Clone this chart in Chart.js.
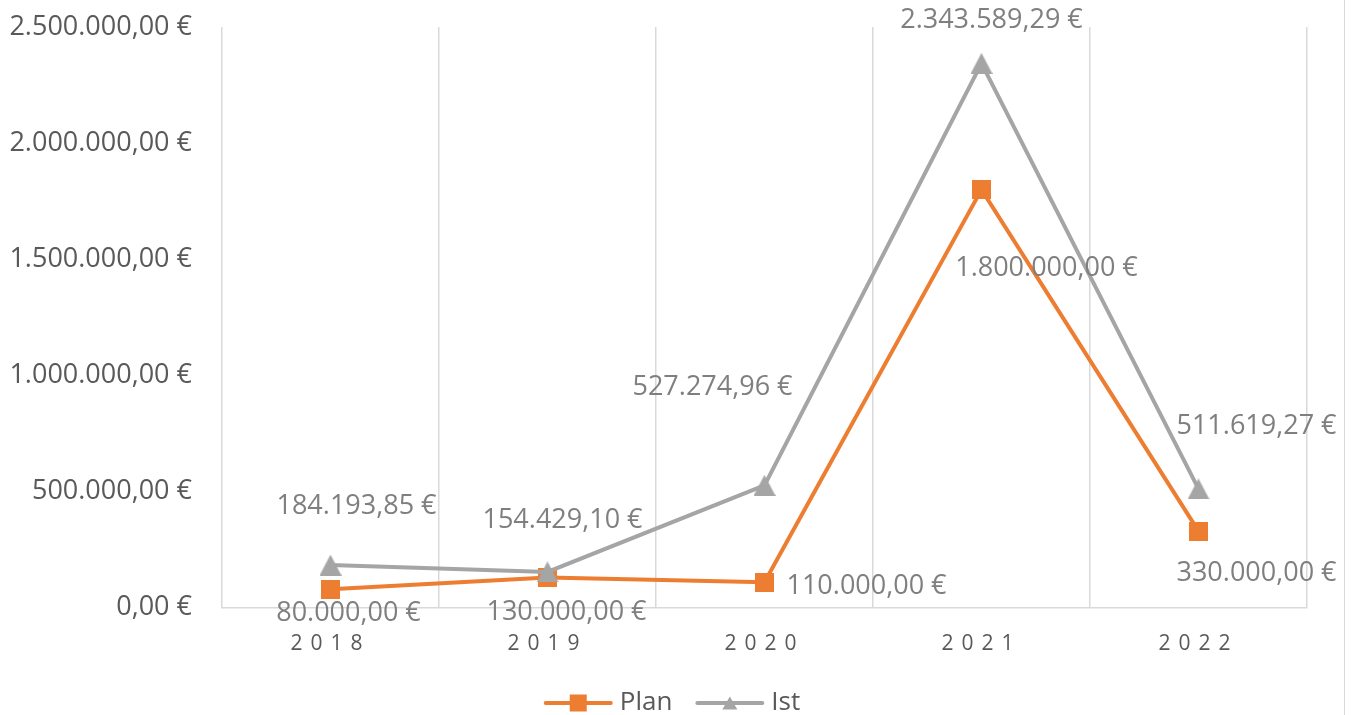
<!DOCTYPE html>
<html>
<head>
<meta charset="utf-8">
<script src="https://cdn.jsdelivr.net/npm/chart.js@4.4.1/dist/chart.umd.min.js"></script>
<style>
  html, body { margin: 0; padding: 0; background: #fff; }
  #wrap { position: relative; width: 1344px; height: 715px; border-right: 1px solid #d9d9d9; }
</style>
</head>
<body>
<div id="wrap"><canvas id="chart"></canvas></div>
<script>
const years = ["2018", "2019", "2020", "2021", "2022"];
const planValues = [80000, 130000, 110000, 1800000, 330000];
const istValues = [184193.85, 154429.10, 527274.96, 2343589.29, 511619.27];
const yMax = 2500000;
const yStep = 500000;

// where each value label sits, relative to its point (px)
const planLabelOffsets = [[18, 24], [19, 35], [102, 4], [65, 79], [58, 42]];
const istLabelOffsets = [[26, -59], [15, -52], [-52, -98], [10, -43], [58, -63]];

const orange = "#ed7d31";
const grey = "#a5a5a5";
const fontFamily = '"Open Sans", sans-serif';

function euro(v) {
    const parts = v.toFixed(2).split(".");
    return parts[0].replace(/\B(?=(\d{3})+(?!\d))/g, ".") + "," + parts[1] + " €";
}

function drawMarker(ctx, style, x, y, w, h, color) {
    ctx.fillStyle = color;
    ctx.beginPath();
    if (style === "rect") {
        ctx.rect(x - w / 2, y - h / 2, w, h);
    } else {
        ctx.moveTo(x, y - h / 2);
        ctx.lineTo(x + w / 2, y + h / 2);
        ctx.lineTo(x - w / 2, y + h / 2);
        ctx.closePath();
    }
    ctx.fill();
}

// marker images, centred on the point by chart.js
function markerImage(style, w, h, color) {
    const c = document.createElement("canvas");
    c.width = w;
    c.height = h;
    drawMarker(c.getContext("2d"), style, w / 2, h / 2, w, h, color);
    return c;
}

const squareMarker = markerImage("rect", 19, 19, orange);
const triangleMarker = markerImage("triangle", 22, 21, grey);

const valueLabels = {
    id: "valueLabels",
    afterDatasetsDraw(chart) {
        const ctx = chart.ctx;
        ctx.save();
        ctx.font = "27px " + fontFamily;
        ctx.fillStyle = "#7f7f7f";
        ctx.textAlign = "center";
        ctx.textBaseline = "middle";
        chart.data.datasets.forEach((ds, i) => {
            const meta = chart.getDatasetMeta(i);
            meta.data.forEach((pt, j) => {
                const off = ds.labelOffsets[j];
                ctx.fillText(euro(ds.data[j]), pt.x + off[0], pt.y + off[1]);
            });
        });
        ctx.restore();
    }
};

// legend: short line with the series marker, then the name
const lineLegend = {
    id: "lineLegend",
    afterDraw(chart) {
        const ctx = chart.ctx;
        const lineLen = 69, gap = 7, itemGap = 23;
        const y = chart.height - 12;
        ctx.save();
        ctx.font = "26px " + fontFamily;
        ctx.textBaseline = "middle";
        ctx.textAlign = "left";
        const items = chart.data.datasets.map(ds => ({ ds, w: ctx.measureText(ds.label).width }));
        const total = items.reduce((s, it) => s + lineLen + gap + it.w, 0) + itemGap * (items.length - 1);
        let x = chart.width / 2 - total / 2;
        items.forEach(it => {
            const isRect = it.ds.legendMarker === "rect";
            ctx.strokeStyle = it.ds.borderColor;
            ctx.lineWidth = 4;
            ctx.lineCap = "round";
            ctx.beginPath();
            ctx.moveTo(x + 2, y);
            ctx.lineTo(x + lineLen - 2, y);
            ctx.stroke();
            drawMarker(ctx, it.ds.legendMarker, x + lineLen / 2, y, isRect ? 17 : 15, isRect ? 17 : 13, it.ds.borderColor);
            x += lineLen + gap;
            ctx.fillStyle = "#595959";
            ctx.fillText(it.ds.label, x, y);
            x += it.w + itemGap;
        });
        ctx.restore();
    }
};

// spaced-out year labels on the x axis
const spacedXLabels = {
    id: "spacedXLabels",
    afterLayout(chart) {
        const xScale = chart.scales.x;
        if (xScale._spaced) return;
        const orig = xScale.drawLabels;
        xScale.drawLabels = function (area) {
            this.ctx.save();
            this.ctx.letterSpacing = "8px";
            orig.call(this, area);
            this.ctx.restore();
        };
        xScale._spaced = true;
    }
};

new Chart(document.getElementById("chart"), {
    type: "line",
    data: {
        labels: years,
        datasets: [{
            label: "Plan",
            data: planValues,
            labelOffsets: planLabelOffsets,
            legendMarker: "rect",
            borderColor: orange,
            backgroundColor: orange,
            borderWidth: 4,
            pointStyle: squareMarker,
            tension: 0,
            order: 1
        }, {
            label: "Ist",
            data: istValues,
            labelOffsets: istLabelOffsets,
            legendMarker: "triangle",
            borderColor: grey,
            backgroundColor: grey,
            borderWidth: 4,
            pointStyle: triangleMarker,
            tension: 0,
            order: 0
        }]
    },
    options: {
        responsive: true,
        maintainAspectRatio: false,
        animation: false,
        layout: {
            padding: { top: 0, right: 37, left: 0, bottom: 34 }
        },
        scales: {
            x: {
                offset: true,
                grid: {
                    display: true,
                    offset: true,
                    color: "#d9d9d9",
                    lineWidth: 1.5,
                    drawTicks: false
                },
                border: { display: true, color: "#d9d9d9", width: 1.5 },
                ticks: {
                    color: "#595959",
                    font: { family: fontFamily, size: 21 },
                    padding: 24,
                    maxRotation: 0
                }
            },
            y: {
                min: 0,
                max: yMax,
                grid: { display: false, drawTicks: false },
                border: { display: false },
                afterFit(scale) {
                    scale.width = 222;
                    scale.paddingTop = 27;
                    scale.paddingBottom = 14;
                },
                ticks: {
                    stepSize: yStep,
                    color: "#595959",
                    font: { family: fontFamily, size: 27 },
                    padding: 30,
                    callback: (v) => euro(v)
                }
            }
        },
        plugins: {
            legend: { display: false },
            tooltip: { enabled: false }
        }
    },
    plugins: [valueLabels, lineLegend, spacedXLabels]
});
</script>
</body>
</html>
